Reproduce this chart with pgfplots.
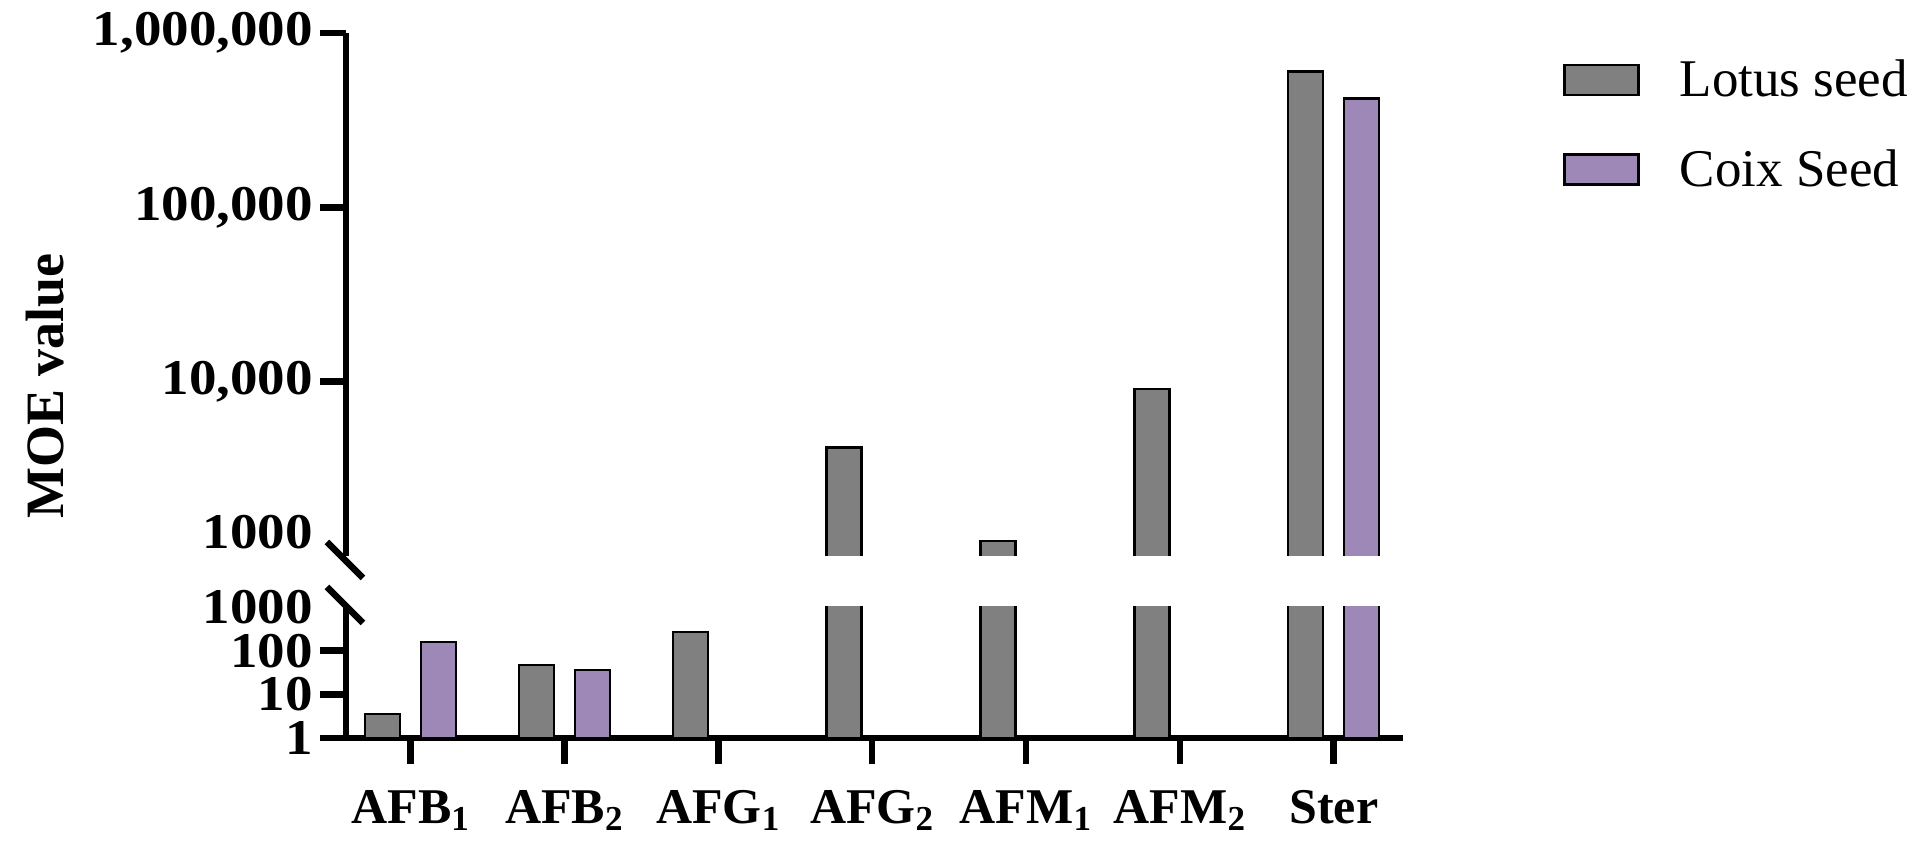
\documentclass[border=0pt]{standalone}
\usepackage{pgfplots}
\pgfplotsset{compat=1.18}
\usepackage{pgfplotstable}
\usepackage{fontspec}
\setmainfont{Liberation Serif}
\newfontfamily\tickfont[FakeStretch=1.1]{Liberation Serif}
\definecolor{lotus}{RGB}{128,128,128}
\definecolor{coix}{RGB}{158,136,184}

\pgfplotstableread{
x y
0 3.5
1 47
2 265
3 4200
4 1220
5 9050
6 600000
}\lotusdata
\pgfplotstableread{
x y
0 160
1 36
6 420000
}\coixdata

\begin{document}
\begin{tikzpicture}
\useasboundingbox (-173pt,-59pt) rectangle (788pt,369pt);
% lower segment
\begin{axis}[scale only axis, width=528.5pt, height=65.5pt, xmin=-0.42, xmax=6.45,
  at={(0pt,0pt)}, anchor=south west,
  ymode=log, ymin=1, ymax=1000, yminorticks=false,
  axis x line*=bottom, axis y line*=left, tick align=outside,
  axis line style={line width=3.3pt},
  every tick/.style={line width=3.3pt, black},
  major tick length=13pt,
  yticklabel style={font=\fontsize{25}{30}\selectfont\tickfont\bfseries, inner ysep=0pt},
  xticklabel style={font=\fontsize{25}{30}\selectfont\bfseries, yshift=-9.5pt},
  xtick={0,1,2,3,4,5,6},
  xticklabels={AFB\textsubscript{1},AFB\textsubscript{2},AFG\textsubscript{1},AFG\textsubscript{2},AFM\textsubscript{1},AFM\textsubscript{2},Ster},
  ytick={1,10,100}, yticklabels={1,10,100},
  extra y ticks={1000}, extra y tick labels={1000},
  extra y tick style={major tick style={draw=none}},
]
\addplot[ybar, bar width=17.5pt, bar shift=-14pt, fill=lotus, draw=black, line width=1.2pt] table[x=x,y=y]{\lotusdata};
\addplot[ybar, bar width=17.5pt, bar shift=14pt, fill=coix, draw=black, line width=1.2pt] table[x=x,y=y]{\coixdata};
\end{axis}
% upper segment
\begin{axis}[scale only axis, width=528.5pt, height=261.5pt, xmin=-0.42, xmax=6.45,
  at={(0pt,91pt)}, anchor=south west,
  ymode=log, ymin=1000, ymax=1000000, yminorticks=false,
  axis x line=none, axis y line*=left, tick align=outside,
  axis line style={line width=3.3pt},
  every tick/.style={line width=3.3pt, black},
  major tick length=13pt,
  yticklabel style={font=\fontsize{25}{30}\selectfont\tickfont\bfseries, inner ysep=0pt},
  ytick={10000,100000,1000000}, yticklabels={{10,000},{100,000},{1,000,000}},
  extra y ticks={1000}, extra y tick labels={1000},
  extra y tick style={major tick style={draw=none}, yticklabel style={yshift=12pt}},
  legend style={at={(axis description cs:1.1514,0.957)}, anchor=north west, draw=none, fill=none,
    font=\fontsize{26.5}{30}\selectfont, row sep=21pt, column sep=18pt, inner sep=0pt},
  legend cell align=left,
]
\addplot[ybar, bar width=17.5pt, bar shift=-14pt, fill=lotus, draw=black, line width=1.2pt,
  legend image code/.code={\draw[fill=lotus, draw=black, line width=1.2pt] (0pt,-7.5pt) rectangle (37pt,7.5pt);}] table[x=x,y=y]{\lotusdata};
\addlegendentry{Lotus seed}
\addplot[ybar, bar width=17.5pt, bar shift=14pt, fill=coix, draw=black, line width=1.2pt,
  legend image code/.code={\draw[fill=coix, draw=black, line width=1.2pt] (0pt,-7.5pt) rectangle (37pt,7.5pt);}] table[x=x,y=y]{\coixdata};
\addlegendentry{Coix Seed}
\end{axis}
\draw[line width=3.3pt] (-9.5pt,98pt) -- (8.5pt,80pt);
\draw[line width=3.3pt] (-9.5pt,75.5pt) -- (8.5pt,57.5pt);
\node[rotate=90, font=\fontsize{27}{30}\selectfont\bfseries] at (-150.5pt,176pt) {MOE value};
\end{tikzpicture}
\end{document}
